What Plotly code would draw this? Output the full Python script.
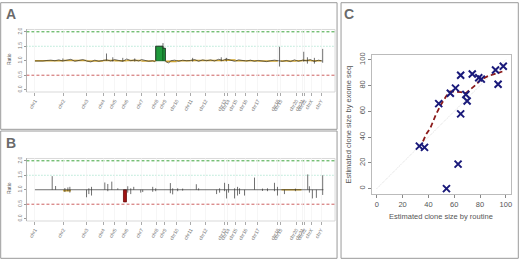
import plotly.graph_objects as go

W, H = 520, 260
def fx(p):
    return p / W
def fy(p):
    return 1 - p / H

FONT = "Arial, Liberation Sans, sans-serif"

# ---------------- genome track data (x = probe-bin position) ----------------
chrom_names = ["chr1", "chr2", "chr3", "chr4", "chr5", "chr6", "chr7", "chr8", "chr9", "chr10",
               "chr11", "chr12", "chr13", "chr14", "chr15", "chr16", "chr17", "chr18", "chr19",
               "chr20", "chr21", "chr22", "chrX", "chrY"]
chrom_start = [0, 28.3, 51.7, 68.3, 80, 91.7, 106.7, 121.7, 130, 142, 156, 171, 190, 193.3,
               201, 211, 223.3, 243.3, 246, 261.7, 267.7, 270, 276.7, 286.7]

# Panel A: ratio profile
a_x = [0, 4, 8, 12, 16, 20, 24, 28, 32, 36, 40, 44, 48, 52, 56, 60, 64, 68, 72, 76, 80, 84, 88,
       92, 96, 100, 104, 107, 110, 114, 118, 120, 121, 121, 128.3, 128.3, 130.7, 130.7, 134, 136,
       140, 144, 148, 152, 156, 160, 164, 168, 172, 176, 180, 184, 188, 192, 196, 200, 204, 208,
       212, 216, 220, 224, 228, 232, 236, 240, 244, 248, 252, 256, 260, 264, 268, 272, 276, 280,
       284, 288]
a_ratio = [0.99, 0.98, 0.99, 1.01, 1.02, 1.00, 1.03, 0.99, 1.02, 1.05, 0.98, 1.00, 1.04, 0.99,
           0.96, 1.02, 0.98, 1.01, 1.03, 0.99, 1.04, 1.01, 0.98, 1.06, 1.00, 1.03, 0.99, 1.04,
           1.01, 0.98, 1.00, 0.97, 1.00, 1.50, 1.50, 1.43, 1.43, 0.98, 0.92, 1.00, 1.02, 0.98,
           1.02, 1.00, 1.01, 1.04, 0.98, 1.03, 1.00, 1.03, 0.99, 1.05, 1.01, 1.06, 1.02, 0.98,
           1.03, 1.00, 0.99, 1.02, 0.98, 1.01, 0.99, 0.97, 1.00, 1.02, 1.00, 0.98, 1.01, 0.97,
           1.03, 0.98, 1.02, 1.00, 1.04, 0.97, 1.02, 0.99]
a_spike_x = [28, 71.7, 78, 88, 100, 128.3, 158, 186.7, 191.7, 245, 269.3, 273, 280, 288.3]
a_spike_lo = [1.00, 1.00, 0.97, 0.98, 0.97, 1.43, 0.97, 0.98, 0.97, 0.80, 0.97, 0.90, 0.90, 0.93]
a_spike_hi = [1.08, 1.25, 1.12, 1.10, 1.08, 1.61, 1.10, 1.12, 1.10, 1.48, 1.31, 1.12, 1.10, 1.41]
a_seg_start = [0, 28.3, 51.7, 68.3, 80, 91.7, 106.7, 131, 142, 156, 171, 190, 201, 211, 223.3,
               246, 261.7, 267.7, 276.7]
a_seg_end = [28.3, 51.7, 68.3, 80, 91.7, 106.7, 121, 142, 156, 171, 190, 201, 211, 223.3, 243.3,
             261.7, 267.7, 276.7, 287]
a_seg_ratio = [1.00, 1.01, 0.99, 1.01, 1.00, 1.01, 0.99, 0.98, 1.00, 1.01, 1.01, 1.02, 1.00,
               1.00, 0.99, 0.99, 1.00, 1.01, 1.00]
a_gain_start = [121.0, 128.3]
a_gain_end = [128.3, 130.7]
a_gain_ratio = [1.50, 1.43]

# Panel B: ratio profile (mostly flat with spikes)
b_x = [0, 289]
b_ratio = [1.0, 1.0]
b_spike_x = [17.3, 20.7, 30, 33, 35, 51.7, 54, 56.7, 70, 73, 77, 83, 93, 96, 99, 106, 108, 118,
             121, 135.7, 138, 143, 148, 161.7, 164, 182, 185, 190, 192, 194, 200, 203, 205, 210,
             220, 228, 233, 240, 243, 250, 261, 273.3, 275, 278, 282, 288.3]
b_spike_lo = [1.00, 1.00, 0.92, 0.95, 0.90, 0.74, 0.85, 0.80, 1.00, 0.95, 1.00, 1.00, 0.90,
              0.85, 1.00, 0.90, 0.92, 0.93, 0.95, 0.88, 0.84, 0.95, 0.97, 1.00, 0.98, 0.85,
              0.90, 0.95, 0.70, 0.90, 0.70, 0.80, 0.85, 0.80, 1.00, 0.96, 0.95, 0.95, 0.80,
              0.85, 0.95, 1.00, 0.90, 0.70, 0.72, 0.82]
b_spike_hi = [1.47, 1.13, 1.06, 1.08, 1.10, 1.00, 1.05, 1.10, 1.25, 1.20, 1.28, 1.05, 1.12,
              1.05, 1.10, 1.00, 1.00, 1.10, 1.05, 1.23, 1.05, 1.05, 1.04, 1.19, 1.05, 1.00,
              1.05, 1.24, 1.00, 1.20, 1.05, 1.10, 1.05, 1.00, 1.42, 1.04, 1.05, 1.24, 1.10,
              1.00, 1.04, 1.53, 1.12, 1.00, 1.00, 1.50]
b_seg_start = [28.3, 247]
b_seg_end = [36, 267]
b_seg_ratio = [0.97, 1.00]
b_loss_start = [88.7]
b_loss_end = [91.7]
b_loss_ratio = [0.58]

ratio_ticks = [0, 0.5, 1.0, 1.5, 2.0]
ratio_labels = ["0.0", "0.5", "1.0", "1.5", "2.0"]
ratio_lines = [2.0, 1.5, 0.5]
ratio_line_colors = ["#3ca43c", "#8fdcc0", "#cc6060"]
ratio_line_dash = ["3px,2px", "1px,2px", "3px,2px"]

# Panel C: clone size comparison
routine = [48, 57, 61, 65, 69, 70, 65, 74, 79, 81, 92, 98, 94, 33, 37, 63, 54]
exome = [66, 74, 78, 88, 73, 68, 58, 89, 86, 85, 92, 95, 81, 33, 32, 19, 0]
fit_x = [35.8, 38.1, 41.5, 45.8, 49.7, 53.6, 56.9, 61.3, 65.2, 69.0, 72.4, 76.8, 80.6, 85.7,
         90.9, 97.3]
fit_y = [36.7, 41.9, 47.0, 57.4, 65.1, 71.5, 75.4, 75.4, 74.9, 74.1, 76.7, 80.6, 84.5, 87.1,
         88.8, 90.9]
c_ticks = [0, 20, 40, 60, 80, 100]

fig = go.Figure()

def seg_xy(starts, ends, vals):
    xs, ys = [], []
    for s, e, v in zip(starts, ends, vals):
        xs += [s, e, None]
        ys += [v, v, None]
    return xs, ys

def spike_xy(xs_, lo, hi):
    xs, ys = [], []
    for x, l, h in zip(xs_, lo, hi):
        xs += [x, x, None]
        ys += [l, h, None]
    return xs, ys

# ---- Panel A ----
gx = [(s + e) / 2 for s, e in zip(a_gain_start, a_gain_end)]
gw = [e - s for s, e in zip(a_gain_start, a_gain_end)]
fig.add_trace(go.Bar(x=gx, y=[r - 1.0 for r in a_gain_ratio], base=[1.0] * len(gx), width=gw,
                     marker=dict(color="#1f9a3c", line=dict(color="#0b5a1e", width=0.8)),
                     xaxis="x", yaxis="y", showlegend=False))
sx, sy = seg_xy(a_seg_start, a_seg_end, a_seg_ratio)
fig.add_trace(go.Scatter(x=sx, y=sy, mode="lines", line=dict(color="#d0a530", width=1.6),
                         xaxis="x", yaxis="y", showlegend=False, connectgaps=False))
fig.add_trace(go.Scatter(x=a_x, y=a_ratio, mode="lines", line=dict(color="#333333", width=0.7),
                         xaxis="x", yaxis="y", showlegend=False))
kx, ky = spike_xy(a_spike_x, a_spike_lo, a_spike_hi)
fig.add_trace(go.Scatter(x=kx, y=ky, mode="lines", line=dict(color="#333333", width=0.7),
                         xaxis="x", yaxis="y", showlegend=False, connectgaps=False))

# ---- Panel B ----
lx = [(s + e) / 2 for s, e in zip(b_loss_start, b_loss_end)]
lw = [e - s for s, e in zip(b_loss_start, b_loss_end)]
fig.add_trace(go.Bar(x=lx, y=[r - 1.0 for r in b_loss_ratio], base=[1.0] * len(lx), width=lw,
                     marker=dict(color="#a01414", line=dict(color="#6a0a0a", width=0.8)),
                     xaxis="x2", yaxis="y2", showlegend=False))
sx, sy = seg_xy(b_seg_start, b_seg_end, b_seg_ratio)
fig.add_trace(go.Scatter(x=sx, y=sy, mode="lines", line=dict(color="#d0a530", width=1.6),
                         xaxis="x2", yaxis="y2", showlegend=False, connectgaps=False))
fig.add_trace(go.Scatter(x=b_x, y=b_ratio, mode="lines", line=dict(color="#333333", width=0.7),
                         xaxis="x2", yaxis="y2", showlegend=False))
kx, ky = spike_xy(b_spike_x, b_spike_lo, b_spike_hi)
fig.add_trace(go.Scatter(x=kx, y=ky, mode="lines", line=dict(color="#333333", width=0.7),
                         xaxis="x2", yaxis="y2", showlegend=False, connectgaps=False))

# ---- Panel C ----
fig.add_trace(go.Scatter(x=[c_ticks[0], c_ticks[-1]], y=[c_ticks[0], c_ticks[-1]], mode="lines",
                         line=dict(color="#dddddd", width=1, dash="1px,1px"),
                         xaxis="x3", yaxis="y3", showlegend=False))
fig.add_trace(go.Scatter(x=fit_x, y=fit_y, mode="lines",
                         line=dict(color="#8b1a1a", width=1.8, dash="5px,3px"),
                         xaxis="x3", yaxis="y3", showlegend=False))
fig.add_trace(go.Scatter(x=routine, y=exome, mode="markers",
                         marker=dict(symbol="x-thin", size=7, line=dict(color="#1a1a7a", width=2)),
                         xaxis="x3", yaxis="y3", showlegend=False))

# ---- Axes ----
xr = [-8.5, 300.7]
yr = [-0.08, 2.08]
tick_font = dict(family=FONT, size=5, color="#777777")

def genome_x(anchor, dom):
    return dict(domain=dom, range=xr, anchor=anchor, tickmode="array", tickvals=chrom_start,
                ticktext=chrom_names, tickangle=-60, tickfont=tick_font, ticks="outside",
                ticklen=3, tickcolor="#aaaaaa", showgrid=True, gridcolor="#f0f0f0",
                gridwidth=0.6, zeroline=False, showline=False, fixedrange=True)

def genome_y(anchor, dom):
    return dict(domain=dom, range=yr, anchor=anchor, tickmode="array", tickvals=ratio_ticks,
                ticktext=ratio_labels, tickangle=-90, tickfont=tick_font, ticks="outside",
                ticklen=2, tickcolor="#999999", showgrid=False, zeroline=False,
                showline=True, linecolor="#999999", linewidth=0.6)

xdomAB = [fx(26.5), fx(335.7)]
fig.update_layout(
    xaxis=genome_x("y", xdomAB),
    yaxis=genome_y("x", [fy(90.7), fy(27.7)]),
    xaxis2=genome_x("y2", xdomAB),
    yaxis2=genome_y("x2", [fy(220.7), fy(157.7)]),
    xaxis3=dict(domain=[fx(372.3), fx(512)], range=[-4, 104], anchor="y3", tickmode="array",
                tickvals=c_ticks, tickfont=dict(family=FONT, size=7.5, color="#555555"),
                ticks="outside", ticklen=3, tickcolor="#888888", showgrid=False, zeroline=False,
                showline=True, mirror=True, linecolor="#aaaaaa", linewidth=0.8),
    yaxis3=dict(domain=[fy(193.3), fy(53)], range=[-4, 104], anchor="x3", tickmode="array",
                tickvals=c_ticks, tickangle=-90,
                tickfont=dict(family=FONT, size=7.5, color="#555555"),
                ticks="outside", ticklen=3, tickcolor="#888888", showgrid=False, zeroline=False,
                showline=True, mirror=True, linecolor="#aaaaaa", linewidth=0.8),
    width=W, height=H, margin=dict(l=0, r=0, t=0, b=0),
    paper_bgcolor="white", plot_bgcolor="white", showlegend=False,
    font=dict(family=FONT),
)

shapes = []
# plot boxes of A and B
for xa, ya in [("x", "y"), ("x2", "y2")]:
    shapes.append(dict(type="rect", xref=xa + " domain", yref=ya + " domain", x0=0, x1=1, y0=0, y1=1,
                       line=dict(color="#cfcfcf", width=0.8), layer="below"))
    for v, c, d in zip(ratio_lines, ratio_line_colors, ratio_line_dash):
        shapes.append(dict(type="line", xref=xa + " domain", yref=ya, x0=0, x1=1, y0=v, y1=v,
                           line=dict(color=c, width=1, dash=d), layer="below"))
# panel frames
for x0, y0, x1, y1 in [(0.7, 0.7, 337.7, 128.3), (0.7, 130.0, 337.7, 258.3),
                       (341.7, 0.7, 519.3, 258.3)]:
    shapes.append(dict(type="rect", xref="paper", yref="paper", x0=fx(x0), x1=fx(x1),
                       y0=fy(y1), y1=fy(y0), line=dict(color="#9a9a9a", width=1)))
fig.update_layout(shapes=shapes)

ann = []
for t, x, y in [("A", 11, 12.5), ("B", 11, 142.5), ("C", 350, 12)]:
    ann.append(dict(text="<b>" + t + "</b>", x=fx(x), y=fy(y), xref="paper", yref="paper",
                    showarrow=False, font=dict(family=FONT, size=14, color="#6a6a6a"),
                    xanchor="center", yanchor="middle"))
for y in [57, 187]:
    ann.append(dict(text="Ratio", x=fx(8.5), y=fy(y), xref="paper", yref="paper", textangle=-90,
                    showarrow=False, font=dict(family=FONT, size=5, color="#555555"),
                    xanchor="center", yanchor="middle"))
ann.append(dict(text="Estimated clone size by routine", x=fx(441.7), y=fy(216.3), xref="paper",
                yref="paper", showarrow=False, font=dict(family=FONT, size=7.5, color="#555555"),
                xanchor="center", yanchor="middle"))
ann.append(dict(text="Estimated clone size by exome seq", x=fx(349), y=fy(123), xref="paper",
                yref="paper", showarrow=False, textangle=-90,
                font=dict(family=FONT, size=7.5, color="#555555"),
                xanchor="center", yanchor="middle"))
fig.update_layout(annotations=ann)

fig.write_html("out.html", config={"displayModeBar": False, "staticPlot": True},
               post_script="document.body.style.margin='0px';document.body.style.overflow='hidden';")
